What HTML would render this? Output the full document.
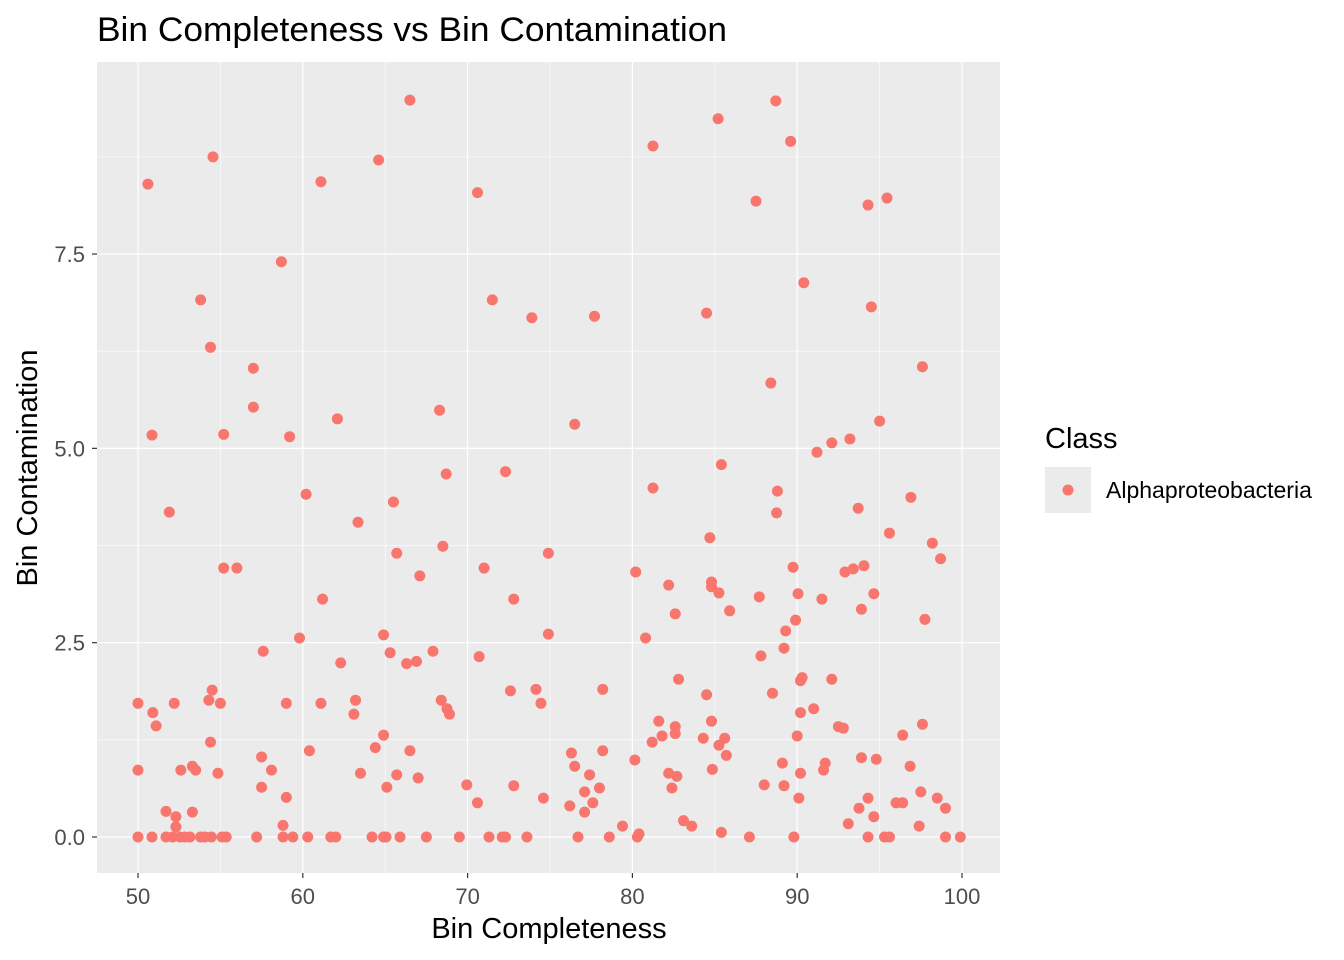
<!DOCTYPE html>
<html><head><meta charset="utf-8"><style>
html,body{margin:0;padding:0;background:#fff;}
svg{display:block;font-family:"Liberation Sans",sans-serif;}
</style></head><body>
<svg id="chart" width="1344" height="960" xmlns="http://www.w3.org/2000/svg">
<text x="97" y="41" font-size="34" textLength="630" lengthAdjust="spacingAndGlyphs" fill="#000">Bin Completeness vs Bin Contamination</text>
<rect x="97" y="62" width="903" height="811" fill="#EBEBEB"/>
<g id="grid"></g>
<g id="points"></g>
<g id="axes"></g>
<text x="549" y="938" font-size="29" text-anchor="middle" fill="#000">Bin Completeness</text>
<text transform="translate(37,468) rotate(-90)" font-size="29" text-anchor="middle" fill="#000">Bin Contamination</text>
<g>
<text x="1045" y="448" font-size="29" fill="#000">Class</text>
<rect x="1045" y="467" width="46" height="46" fill="#EBEBEB"/>
<circle cx="1068" cy="490" r="5.5" fill="#F8766D"/>
<text x="1106" y="498" font-size="23" fill="#000">Alphaproteobacteria</text>
</g>
</svg>
<script>
const completeness = [66.5,85.2,88.7,81.25,89.6,54.55,64.6,50.6,61.1,70.6,87.5,94.3,95.45,58.7,90.4,53.8,71.5,73.9,77.7,84.5,94.5,54.4,57.0,97.6,88.4,57.0,68.3,62.1,95.0,76.5,50.85,55.2,59.2,93.2,92.1,91.2,85.4,68.7,72.3,81.25,88.8,60.2,96.9,65.5,93.7,51.9,88.75,63.35,95.6,84.7,98.2,68.5,74.9,65.7,98.7,55.2,56.0,71.0,89.75,94.05,93.4,92.9,80.2,67.1,84.8,82.2,84.8,85.25,94.65,90.05,87.7,91.5,61.2,72.8,85.9,93.9,82.6,97.75,89.9,89.3,74.9,64.9,80.8,59.8,89.2,57.6,67.9,65.3,87.8,70.7,66.9,66.3,62.3,82.8,92.1,90.3,90.2,54.5,72.6,74.15,78.2,88.5,84.5,63.2,68.4,54.3,50.0,52.2,55.0,59.0,61.1,74.45,68.75,91.0,68.9,90.2,50.9,63.1,81.6,84.8,51.1,97.6,92.5,92.8,82.6,64.9,81.8,82.6,96.4,84.3,85.6,90.0,81.2,54.4,85.25,64.4,60.4,66.5,78.2,76.3,85.7,57.5,93.9,94.8,80.15,91.7,89.1,76.5,96.85,53.3,50.0,52.6,53.5,58.1,84.85,91.6,54.85,63.5,77.4,82.2,90.2,65.7,82.7,67.0,69.95,88.0,89.2,72.8,57.5,65.1,78.0,82.4,77.1,97.5,98.5,94.3,59.0,74.6,90.1,70.6,77.6,96.0,96.4,76.2,93.75,99.0,51.7,53.3,77.1,52.3,94.65,83.1,93.1,83.6,79.4,97.4,58.8,52.3,80.4,85.4,
50.0,50.85,51.7,52.1,52.55,52.85,53.15,53.8,54.05,54.45,55.35,57.2,58.8,59.4,60.3,61.7,62.0,64.2,64.9,65.05,65.9,67.5,69.5,71.3,72.1,72.3,73.6,76.7,78.6,80.3,87.1,89.8,94.3,95.3,95.6,99.0,99.9,55.1];
const contamination = [9.48,9.24,9.47,8.89,8.95,8.75,8.71,8.40,8.43,8.29,8.18,8.13,8.22,7.40,7.13,6.91,6.91,6.68,6.70,6.74,6.82,6.30,6.03,6.05,5.84,5.53,5.49,5.38,5.35,5.31,5.17,5.18,5.15,5.12,5.07,4.95,4.79,4.67,4.70,4.49,4.45,4.41,4.37,4.31,4.23,4.18,4.17,4.05,3.91,3.85,3.78,3.74,3.65,3.65,3.58,3.46,3.46,3.46,3.47,3.49,3.45,3.41,3.41,3.36,3.28,3.24,3.22,3.14,3.13,3.13,3.09,3.06,3.06,3.06,2.91,2.93,2.87,2.80,2.79,2.65,2.61,2.60,2.56,2.56,2.43,2.39,2.39,2.37,2.33,2.32,2.26,2.23,2.24,2.03,2.03,2.05,2.01,1.89,1.88,1.90,1.90,1.85,1.83,1.76,1.76,1.76,1.72,1.72,1.72,1.72,1.72,1.72,1.65,1.65,1.58,1.60,1.60,1.58,1.49,1.49,1.43,1.45,1.42,1.40,1.42,1.31,1.30,1.33,1.31,1.27,1.27,1.30,1.22,1.22,1.18,1.15,1.11,1.11,1.11,1.08,1.05,1.03,1.02,1.00,0.99,0.95,0.95,0.91,0.91,0.91,0.86,0.86,0.86,0.86,0.87,0.86,0.82,0.82,0.80,0.82,0.82,0.80,0.78,0.76,0.67,0.67,0.66,0.66,0.64,0.64,0.63,0.63,0.58,0.58,0.50,0.50,0.51,0.50,0.50,0.44,0.44,0.44,0.44,0.40,0.37,0.37,0.33,0.32,0.32,0.26,0.26,0.21,0.17,0.14,0.14,0.14,0.15,0.13,0.04,0.06,
0,0,0,0,0,0,0,0,0,0,0,0,0,0,0,0,0,0,0,0,0,0,0,0,0,0,0,0,0,0,0,0,0,0,0,0,0,0];
const xTicks = [50,60,70,80,90,100];
const xMinor = [55,65,75,85,95];
const yTicks = [0,2.5,5,7.5];
const yTickLabels = ["0.0","2.5","5.0","7.5"];
const yMinor = [1.25,3.75,6.25,8.75];

const NS="http://www.w3.org/2000/svg";
const L=97,R=1000,T=62,B=873;
function sx(v){return 138+(v-50)*16.48;}
function sy(v){return 837-v*77.73;}
function mk(tag,attrs,parent){const e=document.createElementNS(NS,tag);for(const k in attrs)e.setAttribute(k,attrs[k]);parent.appendChild(e);return e;}
const grid=document.getElementById('grid'),pts=document.getElementById('points'),axes=document.getElementById('axes');
xMinor.forEach(v=>{const e=mk('line',{x1:sx(v),x2:sx(v),y1:T,y2:B,stroke:'#fff','stroke-width':0.6},grid);

});
yMinor.forEach(v=>{const e=mk('line',{x1:L,x2:R,y1:sy(v),y2:sy(v),stroke:'#fff','stroke-width':0.6},grid);

});
xTicks.forEach(v=>{const e=mk('line',{x1:sx(v),x2:sx(v),y1:T,y2:B,stroke:'#fff','stroke-width':1.2},grid);


const t=mk('line',{x1:sx(v),x2:sx(v),y1:B,y2:B+5,stroke:'#333','stroke-width':1.2},axes);


const l=mk('text',{x:sx(v),y:B+31,'font-size':22,'text-anchor':'middle',fill:'#4D4D4D'},axes);l.textContent=v;

});
yTicks.forEach((v,i)=>{const e=mk('line',{x1:L,x2:R,y1:sy(v),y2:sy(v),stroke:'#fff','stroke-width':1.2},grid);


const t=mk('line',{x1:L-5,x2:L,y1:sy(v),y2:sy(v),stroke:'#333','stroke-width':1.2},axes);


const l=mk('text',{x:L-12,y:sy(v)+8,'font-size':22,'text-anchor':'end',fill:'#4D4D4D'},axes);l.textContent=yTickLabels[i];

});
completeness.forEach((c,i)=>{const p=mk('circle',{cx:sx(c),cy:sy(contamination[i]),r:5.5,fill:'#F8766D'},pts);

});
</script>
</body></html>
